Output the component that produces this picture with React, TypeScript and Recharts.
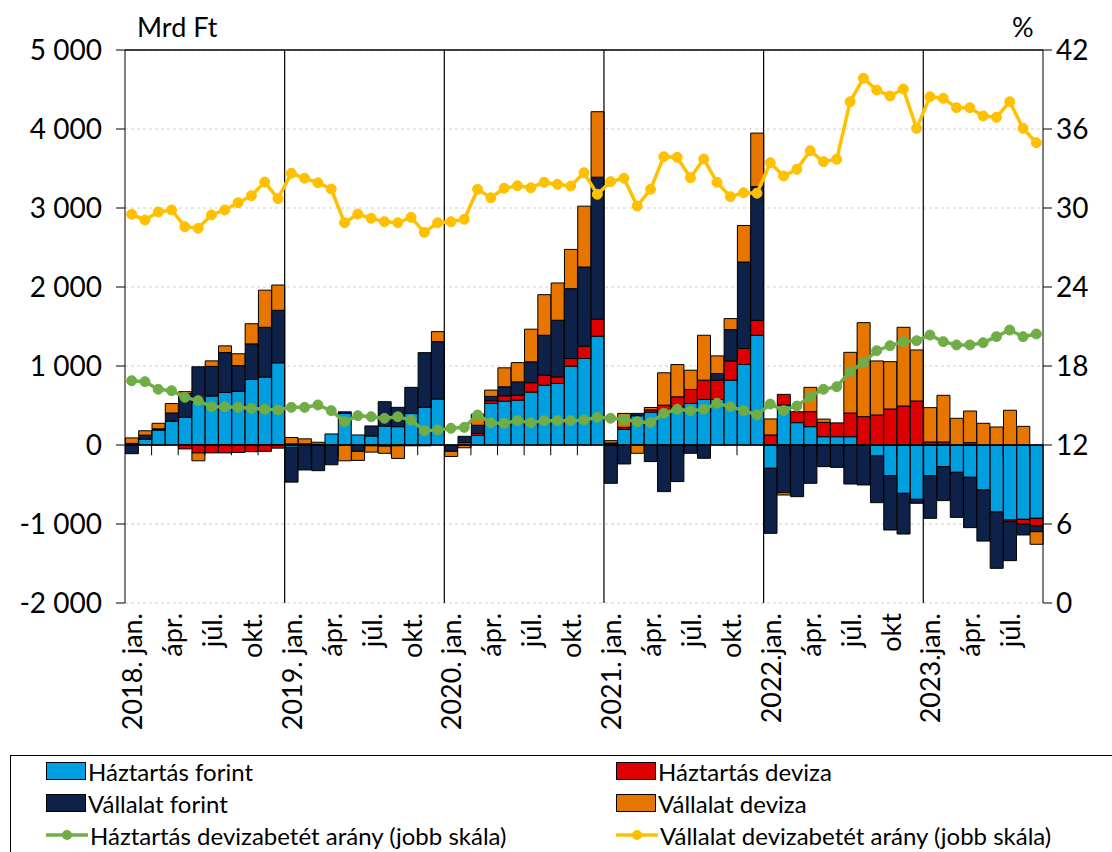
import React from "react";
import {
  ComposedChart,
  Bar,
  Line,
  XAxis,
  YAxis,
  CartesianGrid,
  ReferenceLine,
} from "recharts";

// monthly, cumulative within the year (Mrd Ft) + deposit ratios (%)
const months = [
  "2018-01", "2018-02", "2018-03", "2018-04", "2018-05", "2018-06", "2018-07", "2018-08", "2018-09", "2018-10", "2018-11", "2018-12",
  "2019-01", "2019-02", "2019-03", "2019-04", "2019-05", "2019-06", "2019-07", "2019-08", "2019-09", "2019-10", "2019-11", "2019-12",
  "2020-01", "2020-02", "2020-03", "2020-04", "2020-05", "2020-06", "2020-07", "2020-08", "2020-09", "2020-10", "2020-11", "2020-12",
  "2021-01", "2021-02", "2021-03", "2021-04", "2021-05", "2021-06", "2021-07", "2021-08", "2021-09", "2021-10", "2021-11", "2021-12",
  "2022-01", "2022-02", "2022-03", "2022-04", "2022-05", "2022-06", "2022-07", "2022-08", "2022-09", "2022-10", "2022-11", "2022-12",
  "2023-01", "2023-02", "2023-03", "2023-04", "2023-05", "2023-06", "2023-07", "2023-08", "2023-09",
];

const tickLabels: Record<string, string> = {
  "2018-01": "2018. jan.", "2018-04": "ápr.", "2018-07": "júl.", "2018-10": "okt.",
  "2019-01": "2019. jan.", "2019-04": "ápr.", "2019-07": "júl.", "2019-10": "okt.",
  "2020-01": "2020. jan.", "2020-04": "ápr.", "2020-07": "júl.", "2020-10": "okt.",
  "2021-01": "2021. jan.", "2021-04": "ápr.", "2021-07": "júl.", "2021-10": "okt.",
  "2022-01": "2022.jan.", "2022-04": "ápr.", "2022-07": "júl.", "2022-10": "okt",
  "2023-01": "2023.jan.", "2023-04": "ápr.", "2023-07": "júl.",
};

const hhForint = [
  10, 70, 190, 300, 350, 540, 620, 665, 680, 830, 860, 1040,
  -30, 0, 0, 140, 400, 127, 114, 240, 232, 400, 477, 582,
  0, 30, 120, 525, 556, 568, 670, 758, 779, 998, 1095, 1377,
  15, 200, 370, 415, 420, 484, 526, 577, 577, 821, 1019, 1389,
  -295, 506, 283, 232, 105, 105, 105, 0, -139, -388, -612, -688,
  -388, -274, -346, -409, -570, -848, -950, -941, -928,
];

const hhDeviza = [
  10, 5, 5, 5, -50, -100, -100, -100, -95, -85, -80, -40,
  15, 15, 10, 0, 0, 0, -10, -15, -10, -10, -10, 0,
  0, 0, 25, 35, 67, 63, 118, 126, 84, 97, 156, 215,
  10, 25, 0, 30, 84, 126, 177, 244, 244, 244, 202, 189,
  127, 135, 139, 190, 181, 175, 300, 359, 380, 456, 494, 557,
  38, 38, 0, 30, 0, 0, -20, -59, -97,
];

const vForint = [
  -110, 50, 10, 100, 300, 450, 375, 505, 325, 450, 630, 665,
  -440, -316, -325, -250, 20, -80, 127, 308, 245, 330, 692, 726,
  -80, 80, 105, 55, 114, 168, 265, 505, 716, 884, 1002, 1798,
  -485, -240, 30, -210, -590, -463, -105, -168, 84, 396, 1095, 1692,
  -823, -603, -654, -485, -274, -283, -494, -506, -591, -688, -515, -50,
  -540, -430, -570, -637, -646, -713, -494, -139, -72,
];

const vDeviza = [
  70, 55, 70, 120, 25, -100, 70, 85, 150, 255, 470, 320,
  80, 63, 25, 0, -200, -115, -80, -90, -160, 0, 0, 127,
  -65, -35, 140, 80, 240, 244, 413, 514, 472, 497, 770, 829,
  30, 175, -105, 30, 410, 408, 244, 568, 223, 139, 463, 678,
  203, -30, 0, 308, 42, 0, 768, 1190, 684, 599, 996, 646,
  435, 591, 338, 400, 275, 228, 440, 236, -160,
];

const hhRatio = [
  16.88, 16.81, 16.23, 16.12, 15.62, 15.37, 14.91, 14.91, 14.86, 14.78, 14.71, 14.66,
  14.86, 14.86, 15.04, 14.61, 13.77, 14.23, 14.15, 14.03, 14.15, 13.9, 13.09, 13.14,
  13.27, 13.34, 14.28, 13.69, 13.65, 13.85, 13.69, 13.85, 13.85, 13.85, 13.9, 14.1,
  14.03, 13.95, 13.77, 13.7, 14.41, 14.71, 14.61, 14.71, 15.17, 14.91, 14.61, 14.28,
  15.11, 14.61, 14.96, 15.67, 16.23, 16.43, 17.57, 18.25, 19.16, 19.54, 19.85, 19.92,
  20.35, 19.85, 19.6, 19.6, 19.77, 20.23, 20.73, 20.23, 20.43,
];

const vRatio = [
  29.52, 29.09, 29.7, 29.85, 28.58, 28.46, 29.47, 29.85, 30.4, 30.93, 31.97, 30.71,
  32.64, 32.26, 31.92, 31.44, 28.88, 29.54, 29.22, 28.96, 28.88, 29.29, 28.15, 28.88,
  28.96, 29.14, 31.42, 30.78, 31.5, 31.69, 31.54, 31.95, 31.8, 31.67, 32.68, 31.04,
  32.0, 32.26, 30.15, 31.42, 33.9, 33.85, 32.3, 33.72, 31.95, 30.86, 31.16, 31.12,
  33.44, 32.43, 32.94, 34.35, 33.52, 33.7, 38.07, 39.85, 38.96, 38.51, 39.04, 36.05,
  38.45, 38.33, 37.62, 37.62, 36.99, 36.89, 38.07, 36.05, 34.96,
];

const leftTicks = [-2000, -1000, 0, 1000, 2000, 3000, 4000, 5000];
const rightTicks = [0, 6, 12, 18, 24, 30, 36, 42];
const yearStarts = ["2019-01", "2020-01", "2021-01", "2022-01", "2023-01"];

const COLORS = {
  hhForint: "#009FDF",
  hhDeviza: "#DD0000",
  vForint: "#0D2149",
  vDeviza: "#E67600",
  hhRatio: "#70AD47",
  vRatio: "#FFC000",
};

const FONT = "Lato, 'Open Sans', sans-serif";

const data = months.map((m, i) => ({
  month: m,
  hhForint: hhForint[i],
  hhDeviza: hhDeviza[i],
  vForint: vForint[i],
  vDeviza: vDeviza[i],
  hhRatio: hhRatio[i],
  vRatio: vRatio[i],
}));

// small tick marks on the zero line, every second month (not at year starts)
const minorTicks = months.filter((m, i) => i > 0 && i % 2 === 0 && !yearStarts.includes(m));

const fmtThousands = (v: number) => {
  const s = Math.abs(v).toString().replace(/\B(?=(\d{3})+(?!\d))/g, " ");
  return (v < 0 ? "-" : "") + s;
};

const MonthTick = (props: any) => {
  const { x, y, payload } = props;
  const label = tickLabels[payload.value];
  if (!label) return null;
  return (
    <text
      transform={`translate(${x},${y + 2}) rotate(-90)`}
      textAnchor="end"
      dominantBaseline="central"
      fontSize={27}
      fontFamily={FONT}
      fill="#000"
    >
      {label}
    </text>
  );
};

const legendItems = [
  { name: "Háztartás forint", color: COLORS.hhForint, line: false },
  { name: "Háztartás deviza", color: COLORS.hhDeviza, line: false },
  { name: "Vállalat forint", color: COLORS.vForint, line: false },
  { name: "Vállalat deviza", color: COLORS.vDeviza, line: false },
  { name: "Háztartás devizabetét arány (jobb skála)", color: COLORS.hhRatio, line: true },
  { name: "Vállalat devizabetét arány (jobb skála)", color: COLORS.vRatio, line: true },
];

function LegendSymbol({ color, line }: { color: string; line: boolean }) {
  if (line) {
    return (
      <svg width={42} height={20} style={{ marginRight: 2 }}>
        <line x1={0} y1={10} x2={42} y2={10} stroke={color} strokeWidth={3.5} />
        <circle cx={21} cy={10} r={5} fill={color} />
      </svg>
    );
  }
  return (
    <span
      style={{
        display: "inline-block",
        width: 40,
        height: 18,
        background: color,
        border: "1px solid #000",
        marginRight: 2,
        boxSizing: "border-box",
      }}
    />
  );
}

export default function App() {
  return (
    <div
      style={{
        position: "absolute",
        left: 0,
        top: 0,
        width: 1112,
        height: 852,
        overflow: "hidden",
        background: "#fff",
        fontFamily: FONT,
      }}
    >
      <div style={{ position: "absolute", left: 137, top: 10, fontSize: 27 }}>Mrd Ft</div>
      <div style={{ position: "absolute", left: 1012, top: 10, fontSize: 27 }}>%</div>

      <ComposedChart
        width={1112}
        height={760}
        data={data}
        stackOffset="sign"
        barCategoryGap="3%"
        margin={{ top: 50, right: 0, bottom: 0, left: 10 }}
      >
        <CartesianGrid vertical={false} stroke="#d0d0d0" strokeDasharray="3 3" yAxisId="left" />
        <XAxis
          dataKey="month"
          ticks={Object.keys(tickLabels)}
          interval={0}
          tick={<MonthTick />}
          tickLine={false}
          axisLine={false}
          height={157}
        />
        <YAxis
          yAxisId="left"
          domain={[-2000, 5000]}
          ticks={leftTicks}
          tickFormatter={fmtThousands}
          width={115}
          tickSize={9}
          tickMargin={14}
          axisLine={{ stroke: "#000" }}
          tickLine={{ stroke: "#000" }}
          tick={{ fill: "#000", fontSize: 28, fontFamily: FONT }}
          interval={0}
        />
        <YAxis
          yAxisId="right"
          orientation="right"
          domain={[0, 42]}
          ticks={rightTicks}
          width={69}
          tickSize={9}
          tickMargin={4}
          axisLine={{ stroke: "#000" }}
          tickLine={{ stroke: "#000" }}
          tick={{ fill: "#000", fontSize: 28, fontFamily: FONT }}
          interval={0}
        />

        <Bar yAxisId="left" dataKey="hhForint" stackId="s" fill={COLORS.hhForint} stroke="#000" strokeWidth={1} isAnimationActive={false} />
        <Bar yAxisId="left" dataKey="hhDeviza" stackId="s" fill={COLORS.hhDeviza} stroke="#000" strokeWidth={1} isAnimationActive={false} />
        <Bar yAxisId="left" dataKey="vForint" stackId="s" fill={COLORS.vForint} stroke="#000" strokeWidth={1} isAnimationActive={false} />
        <Bar yAxisId="left" dataKey="vDeviza" stackId="s" fill={COLORS.vDeviza} stroke="#000" strokeWidth={1} isAnimationActive={false} />

        <ReferenceLine yAxisId="left" y={0} stroke="#000" strokeWidth={1.5} />
        <ReferenceLine yAxisId="left" y={5000} stroke="#000" strokeWidth={1.5} />
        {yearStarts.map((m) => (
          <ReferenceLine key={m} yAxisId="left" x={m} position="start" stroke="#000" strokeWidth={1.2} />
        ))}
        {minorTicks.map((m) => (
          <ReferenceLine
            key={"t" + m}
            yAxisId="left"
            position="start"
            segment={[{ x: m, y: 0 }, { x: m, y: -130 }]}
            stroke="#000"
            strokeWidth={1}
          />
        ))}

        <Line
          yAxisId="right"
          dataKey="vRatio"
          stroke={COLORS.vRatio}
          strokeWidth={3.5}
          dot={{ r: 5, fill: COLORS.vRatio, stroke: COLORS.vRatio, strokeWidth: 1 }}
          isAnimationActive={false}
        />
        <Line
          yAxisId="right"
          dataKey="hhRatio"
          stroke={COLORS.hhRatio}
          strokeWidth={3.5}
          dot={{ r: 5, fill: COLORS.hhRatio, stroke: COLORS.hhRatio, strokeWidth: 1 }}
          isAnimationActive={false}
        />
      </ComposedChart>

      <div
        style={{
          position: "absolute",
          left: 10,
          top: 755,
          width: 1120,
          height: 120,
          border: "1px solid #000",
          boxSizing: "border-box",
        }}
      >
        <div
          style={{
            display: "grid",
            gridTemplateColumns: "570px 500px",
            rowGap: 6,
            paddingLeft: 35,
            paddingTop: 2,
            fontSize: 24,
          }}
        >
          {legendItems.map((it) => (
            <div key={it.name} style={{ display: "flex", alignItems: "center", height: 26 }}>
              <LegendSymbol color={it.color} line={it.line} />
              <span>{it.name}</span>
            </div>
          ))}
        </div>
      </div>
    </div>
  );
}
